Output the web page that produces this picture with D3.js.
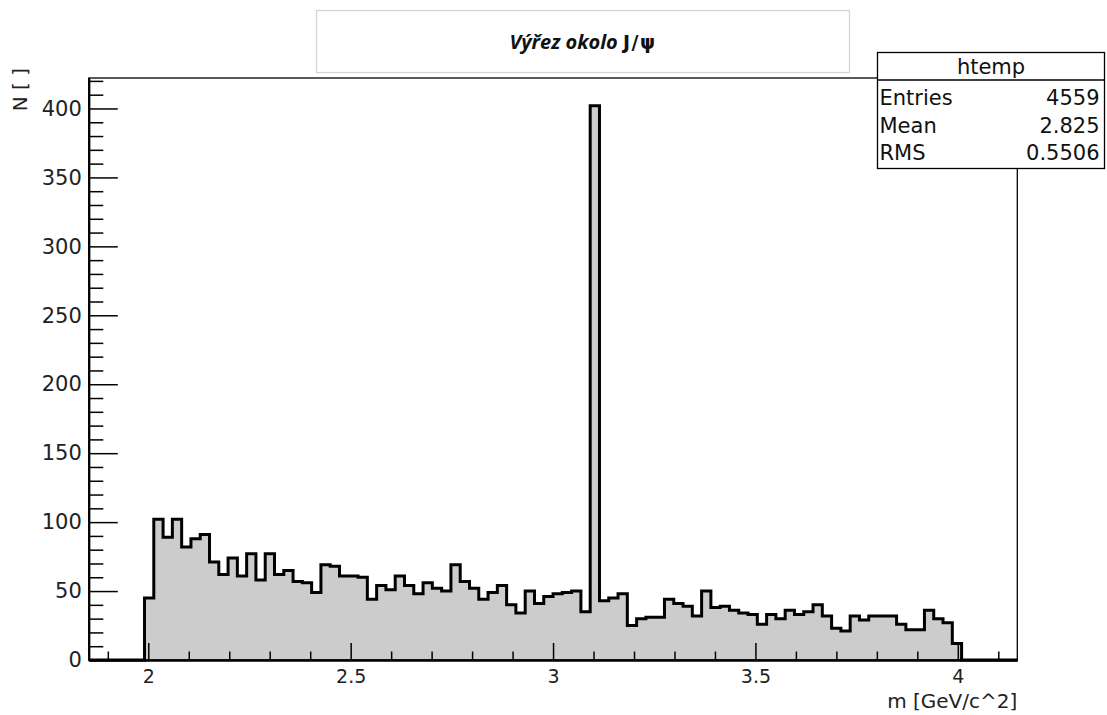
<!DOCTYPE html>
<html>
<head>
<meta charset="utf-8">
<script src="https://cdn.jsdelivr.net/npm/d3@7"></script>
<style>
  html, body { margin: 0; padding: 0; background: #ffffff; }
  svg { display: block; }
</style>
</head>
<body>
<script>
// ---------------- data ----------------
const chartTitle = "Výřez okolo ";
const chartTitleSymbol = "J/ψ";
const xTitle = "m [GeV/c^2]";
const yTitle = "N [ ]";
const histName = "htemp";
const statLabels = ["Entries", "Mean", "RMS"];
const statValues = ["4559", "2.825", "0.5506"];
const xDomain = [1.853, 4.147];
const yDomain = [0, 422.1];
const xMajorTicks = [2, 2.5, 3, 3.5, 4];
const xTickLabels = ["2", "2.5", "3", "3.5", "4"];
const xMinorTicks = [1.9, 2.1, 2.2, 2.3, 2.4, 2.6, 2.7, 2.8, 2.9, 3.1, 3.2, 3.3, 3.4, 3.6, 3.7, 3.8, 3.9, 4.1];
const yMajorTicks = [0, 50, 100, 150, 200, 250, 300, 350, 400];
const yMinorTicks = [10, 20, 30, 40, 60, 70, 80, 90, 110, 120, 130, 140, 160, 170, 180, 190, 210, 220, 230, 240,
  260, 270, 280, 290, 310, 320, 330, 340, 360, 370, 380, 390, 410, 420];
// 100 bins across xDomain
const binCounts = [
  0, 0, 0, 0, 0, 0,
  45, 102, 89, 102, 82, 88, 91, 71, 62, 74,
  61, 77, 58, 77, 62, 65, 57, 56, 49, 69,
  68, 61, 61, 60, 44, 54, 51, 61, 54, 48,
  56, 52, 50, 69, 57, 52, 44, 49, 54, 40,
  34, 50, 41, 46, 48, 49, 50, 35, 402, 43,
  45, 48, 25, 30, 31, 31, 44, 41, 39, 32,
  50, 38, 39, 36, 34, 33, 26, 33, 30, 36,
  33, 35, 40, 32, 23, 21, 32, 29, 32, 32,
  32, 26, 22, 22, 36, 30, 27, 12,
  0, 0, 0, 0, 0, 0
];

// ---------------- layout ----------------
const W = 1107, H = 715;
const frame = { left: 88.8, right: 1017.3, top: 78, bottom: 660 };
const axisFont = "'DejaVu Sans', sans-serif";

const svg = d3.select("body").append("svg")
  .attr("width", W).attr("height", H)
  .attr("viewBox", `0 0 ${W} ${H}`);

svg.append("rect").attr("width", W).attr("height", H).attr("fill", "#ffffff");

const x = d3.scaleLinear().domain(xDomain).range([frame.left, frame.right]);
const y = d3.scaleLinear().domain(yDomain).range([frame.bottom, frame.top]);

// ---------------- histogram ----------------
const nBins = binCounts.length;
const binW = (xDomain[1] - xDomain[0]) / nBins;
const pts = [[x(xDomain[0]), y(0)]];
binCounts.forEach((v, i) => {
  const x0 = xDomain[0] + i * binW, x1 = x0 + binW;
  pts.push([x(x0), y(v)]);
  pts.push([x(x1), y(v)]);
});
pts.push([x(xDomain[1]), y(0)]);

svg.append("path")
  .attr("d", d3.line()(pts) + "Z")
  .attr("fill", "#cccccc")
  .attr("stroke", "none");
svg.append("path")
  .attr("d", d3.line()(pts))
  .attr("fill", "none")
  .attr("stroke", "#000")
  .attr("stroke-width", 3)
  .attr("stroke-linejoin", "miter");

// ---------------- frame ----------------
svg.append("rect")
  .attr("x", frame.left).attr("y", frame.top)
  .attr("width", frame.right - frame.left).attr("height", frame.bottom - frame.top)
  .attr("fill", "none").attr("stroke", "#000").attr("stroke-width", 1.3);

// ---------------- x axis ----------------
const gx = svg.append("g").attr("transform", `translate(0,${frame.bottom})`);
gx.call(d3.axisBottom(x).tickValues(xMajorTicks)
  .tickFormat((d, i) => xTickLabels[i])
  .tickSizeInner(-17).tickSizeOuter(0).tickPadding(10));
const gxm = svg.append("g").attr("transform", `translate(0,${frame.bottom})`);
gxm.call(d3.axisBottom(x).tickValues(xMinorTicks).tickFormat("").tickSizeInner(-8.5).tickSizeOuter(0));
[gx, gxm].forEach(g => {
  g.select(".domain").attr("stroke", "#000").attr("stroke-width", 2.2);
  g.selectAll(".tick line").attr("stroke", "#000").attr("stroke-width", 1.5);
});
gx.selectAll(".tick text").attr("font-family", axisFont).attr("font-size", 19).attr("fill", "#222");

// ---------------- y axis ----------------
const gy = svg.append("g").attr("transform", `translate(${frame.left},0)`);
gy.call(d3.axisLeft(y).tickValues(yMajorTicks).tickFormat(d3.format("d"))
  .tickSizeInner(-29).tickSizeOuter(0).tickPadding(7));
const gym = svg.append("g").attr("transform", `translate(${frame.left},0)`);
gym.call(d3.axisLeft(y).tickValues(yMinorTicks).tickFormat("").tickSizeInner(-14.5).tickSizeOuter(0));
[gy, gym].forEach(g => {
  g.select(".domain").attr("stroke", "#000").attr("stroke-width", 1.8);
  g.selectAll(".tick line").attr("stroke", "#000").attr("stroke-width", 1.5);
});
gy.selectAll(".tick text").attr("font-family", axisFont).attr("font-size", 21).attr("fill", "#222");

// axis titles
svg.append("text")
  .attr("x", frame.right).attr("y", 708)
  .attr("text-anchor", "end")
  .attr("font-family", axisFont).attr("font-size", 20).attr("fill", "#222")
  .text(xTitle);
svg.append("text")
  .attr("transform", `translate(27,68) rotate(-90)`)
  .attr("text-anchor", "end")
  .attr("font-family", axisFont).attr("font-size", 20).attr("fill", "#222")
  .text(yTitle);

// ---------------- title box ----------------
svg.append("rect")
  .attr("x", 316.5).attr("y", 10.5).attr("width", 533).attr("height", 62)
  .attr("fill", "#fff").attr("stroke", "#d4d4d4").attr("stroke-width", 1.3);
const tt = svg.append("text")
  .attr("x", 583).attr("y", 49)
  .attr("text-anchor", "middle")
  .attr("font-size", 20).attr("fill", "#111");
tt.append("tspan").attr("font-family", "'Open Sans', Lato, sans-serif")
  .attr("font-weight", "bold").attr("font-style", "italic").text(chartTitle);
tt.append("tspan").attr("font-family", "'DejaVu Sans', sans-serif")
  .attr("font-weight", "bold").attr("font-size", 19).attr("letter-spacing", 1.5).text(chartTitleSymbol);

// ---------------- stats box ----------------
const sb = { x: 877.5, y: 52.5, w: 227, h: 116, header: 80 };
svg.append("rect")
  .attr("x", sb.x).attr("y", sb.y).attr("width", sb.w).attr("height", sb.h)
  .attr("fill", "#fff").attr("stroke", "#000").attr("stroke-width", 1.3);
svg.append("line")
  .attr("x1", sb.x).attr("x2", sb.x + sb.w).attr("y1", sb.header).attr("y2", sb.header)
  .attr("stroke", "#000").attr("stroke-width", 1.3);
svg.append("text")
  .attr("x", sb.x + sb.w / 2).attr("y", 74)
  .attr("text-anchor", "middle")
  .attr("font-family", axisFont).attr("font-size", 21).attr("fill", "#111")
  .text(histName);
statLabels.forEach((lab, i) => {
  const by = 105 + i * 27.5;
  svg.append("text").attr("x", sb.x + 2).attr("y", by)
    .attr("font-family", axisFont).attr("font-size", 21).attr("fill", "#111").text(lab);
  svg.append("text").attr("x", sb.x + sb.w - 5).attr("y", by)
    .attr("text-anchor", "end")
    .attr("font-family", axisFont).attr("font-size", 21).attr("fill", "#111").text(statValues[i]);
});
</script>
</body>
</html>
